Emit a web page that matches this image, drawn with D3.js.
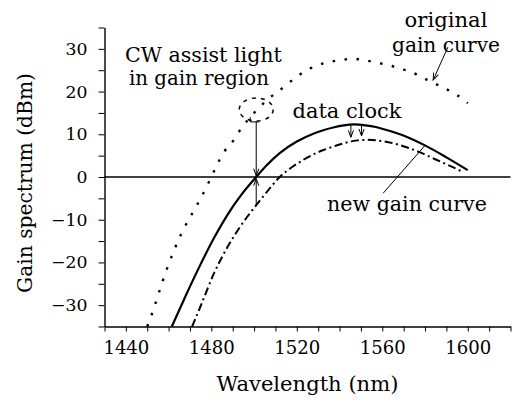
<!DOCTYPE html>
<html>
<head>
<meta charset="utf-8">
<script src="https://cdn.jsdelivr.net/npm/d3@7"></script>
<style>
body { margin: 0; background: #fff; }
svg { display: block; }
svg text { font-family: "DejaVu Serif", "Liberation Serif", "Times New Roman", serif; fill: #000; }
</style>
</head>
<body>
<div id="chart"></div>
<script>
// wavelength (nm) / gain (dBm)
var origWl   = [1450, 1452, 1459, 1466, 1472, 1475, 1480, 1483, 1486, 1490, 1494, 1500, 1507, 1514, 1520, 1525, 1530, 1536, 1541, 1546, 1551, 1557, 1563, 1568, 1573, 1578, 1584, 1589, 1595, 1600];
var origGain = [-35, -32.3, -21.8, -13.2, -7.7, -5.0, 0, 3.2, 5.9, 8.3, 11.4, 15.0, 18.4, 21.1, 23.5, 25.1, 26.2, 27.0, 27.4, 27.7, 27.4, 26.8, 26.2, 25.4, 24.7, 23.5, 22.0, 20.8, 19.2, 17.3];

var clockWl   = [1461.5, 1468, 1475, 1482, 1488, 1494, 1501, 1506, 1512, 1520, 1528, 1532, 1537, 1542, 1547, 1552, 1557, 1562, 1571, 1580, 1590, 1600];
var clockGain = [-35, -27.8, -20.4, -13.6, -8.5, -4.2, 0, 2.8, 5.6, 8.3, 10.2, 10.9, 11.6, 12.1, 12.3, 12.1, 11.7, 11.0, 9.5, 7.4, 4.6, 1.6];

var newWl   = [1471, 1475, 1481, 1487, 1493, 1501, 1506, 1512, 1518, 1523, 1529, 1533, 1540, 1546, 1553, 1560, 1568, 1578, 1585, 1593, 1598];
var newGain = [-35, -30.2, -22.8, -16.9, -12.0, -6.6, -3.5, 0, 2.4, 4.0, 5.6, 6.4, 7.6, 8.4, 8.7, 8.4, 7.5, 5.7, 4.1, 2.3, 1.1];

var xLabels = [1440, 1480, 1520, 1560, 1600];
var yLabels = [-30, -20, -10, 0, 10, 20, 30];

var svg = d3.select("#chart").append("svg")
  .attr("width", 517)
  .attr("height", 401);

var margin = { top: 27.5, right: 6.5, bottom: 74.5, left: 104.5 };
var width = 517 - margin.left - margin.right;
var height = 401 - margin.top - margin.bottom;

var chart = svg.append("g").attr("transform", `translate(${margin.left},${margin.top})`);

var x = d3.scaleLinear().domain([1430, 1620]).range([0, width]);
var y = d3.scaleLinear().domain([-35, 35]).range([height, 0]);

// scale a text so it spans the width it has in the figure
function fitText(sel, target) {
  sel.each(function(d) {
    var w = typeof target === "function" ? target(d) : target;
    var n = this.getComputedTextLength();
    var fs = parseFloat(getComputedStyle(this).fontSize);
    d3.select(this).style("font-size", (fs * w / n) + "px");
  });
}

// arrow head
svg.append("defs").append("marker")
  .attr("id", "arrow")
  .attr("viewBox", "-9 -5 10 10")
  .attr("refX", 0).attr("refY", 0)
  .attr("markerUnits", "userSpaceOnUse")
  .attr("markerWidth", 10).attr("markerHeight", 10)
  .attr("orient", "auto")
  .append("path")
  .attr("d", "M-7,-2.6L0,0L-7,2.6")
  .attr("fill", "none")
  .attr("stroke", "#000")
  .attr("stroke-width", 1);

// axes
var xAxis = chart.append("g")
  .attr("transform", `translate(0,${height})`)
  .call(d3.axisBottom(x)
    .tickValues(d3.range(1430, 1621, 10))
    .tickSize(5)
    .tickSizeOuter(0)
    .tickPadding(10)
    .tickFormat(d => xLabels.includes(d) ? d : ""));
xAxis.attr("font-family", null);
xAxis.selectAll("text").style("font-size", "19px");
fitText(xAxis.selectAll("text").filter(d => xLabels.includes(d)), 46);
xAxis.select(".domain").attr("stroke-width", 1.4);

var yAxis = chart.append("g")
  .call(d3.axisLeft(y)
    .tickValues(d3.range(-35, 36, 5))
    .tickSize(6)
    .tickSizeOuter(0)
    .tickPadding(11)
    .tickFormat(d => yLabels.includes(d) ? d3.format("d")(d) : ""));
yAxis.attr("font-family", null);
yAxis.selectAll("text").style("font-size", "17px");
fitText(yAxis.selectAll("text").filter(d => d === 30), 22);
var yfs = yAxis.selectAll("text").filter(d => d === 30).style("font-size");
yAxis.selectAll("text").style("font-size", yfs);
yAxis.select(".domain").attr("stroke-width", 1.4);

// zero line
chart.append("line")
  .attr("x1", 0).attr("x2", width)
  .attr("y1", y(0)).attr("y2", y(0))
  .attr("stroke", "#000")
  .attr("stroke-width", 1.4);

var line = d3.line()
  .x(d => x(d[0]))
  .y(d => y(d[1]))
  .curve(d3.curveMonotoneX);

// original gain curve (dotted)
chart.append("path")
  .attr("d", line(d3.zip(origWl, origGain)))
  .attr("fill", "none")
  .attr("stroke", "#000")
  .attr("stroke-width", 2.4)
  .attr("stroke-dasharray", "2.5,9.5");

// data clock (solid)
chart.append("path")
  .attr("d", line(d3.zip(clockWl, clockGain)))
  .attr("fill", "none")
  .attr("stroke", "#000")
  .attr("stroke-width", 2.2);

// new gain curve (dash-dot)
chart.append("path")
  .attr("d", line(d3.zip(newWl, newGain)))
  .attr("fill", "none")
  .attr("stroke", "#000")
  .attr("stroke-width", 2)
  .attr("stroke-dasharray", "8,3.5,2,3.5");

// CW assist light marker
chart.append("ellipse")
  .attr("cx", x(1501)).attr("cy", y(15.8))
  .attr("rx", 17).attr("ry", 11.5)
  .attr("fill", "none")
  .attr("stroke", "#000")
  .attr("stroke-width", 1.5)
  .attr("stroke-dasharray", "4,5");

function arrow(x1, y1, x2, y2, head) {
  var l = chart.append("line")
    .attr("x1", x(x1)).attr("y1", y(y1))
    .attr("x2", x(x2)).attr("y2", y(y2))
    .attr("stroke", "#000")
    .attr("stroke-width", 1);
  if (head) l.attr("marker-end", "url(#arrow)");
}

arrow(1501, 13.0, 1501, 0.3, true);
arrow(1501, -6.8, 1501, -0.4, true);
chart.append("path")
  .attr("d", `M${x(1498.2)},${y(14.0)}L${x(1498.2)},${y(12.9)}L${x(1502.5)},${y(12.9)}`)
  .attr("fill", "none")
  .attr("stroke", "#000")
  .attr("stroke-width", 1);
arrow(1545.3, 12.1, 1545.3, 9.3, true);
arrow(1550.3, 12.1, 1550.3, 9.6, true);
arrow(1590.7, 30.4, 1583.8, 22.7, true);
arrow(1560.4, -3.8, 1580, 7.4, false);

// text labels
var labels = [
  { t: "CW assist light", x: 125, y: 62, a: "start", w: 157 },
  { t: "in gain region", x: 129, y: 85, a: "start", w: 140 },
  { t: "original", x: 446, y: 27, a: "middle", w: 83 },
  { t: "gain curve", x: 446, y: 52, a: "middle", w: 108 },
  { t: "data clock", x: 347, y: 118, a: "middle", w: 109 },
  { t: "new gain curve", x: 407, y: 211, a: "middle", w: 160 }
];
var notes = svg.selectAll("text.note")
  .data(labels)
  .enter()
  .append("text")
  .attr("class", "note")
  .attr("x", d => d.x)
  .attr("y", d => d.y)
  .attr("text-anchor", d => d.a)
  .style("font-size", "20px")
  .text(d => d.t);
fitText(notes, d => d.w);

var xTitle = svg.append("text")
  .attr("x", margin.left + width / 2)
  .attr("y", 391)
  .attr("text-anchor", "middle")
  .style("font-size", "20px")
  .text("Wavelength (nm)");
fitText(xTitle, 182);

var yTitle = svg.append("text")
  .attr("transform", "translate(32,183) rotate(-90)")
  .attr("text-anchor", "middle")
  .style("font-size", "20px")
  .text("Gain spectrum (dBm)");
fitText(yTitle, 220);
</script>
</body>
</html>
